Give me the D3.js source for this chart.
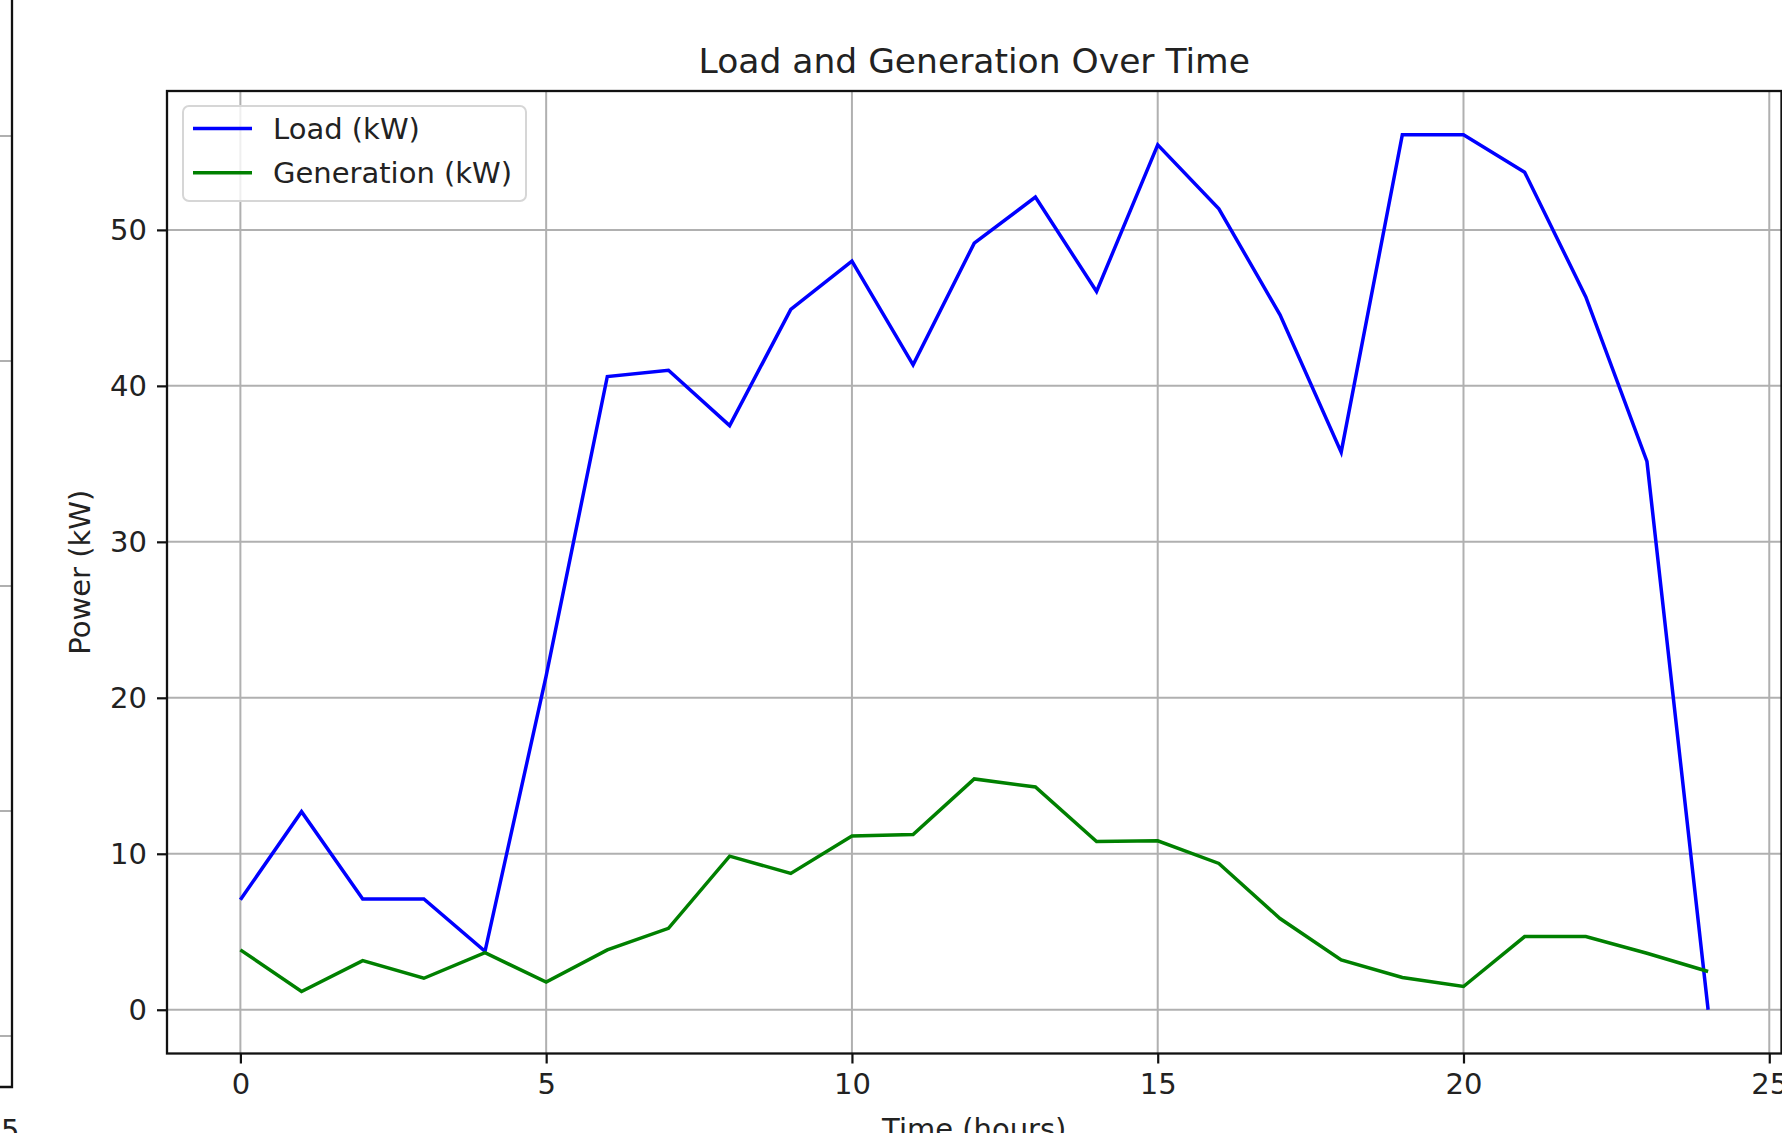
<!DOCTYPE html>
<html>
<head>
<meta charset="utf-8">
<script src="https://cdn.jsdelivr.net/npm/d3@7"></script>
<style>
  html, body { margin: 0; padding: 0; background: #fff; }
  svg { display: block; font-family: "DejaVu Sans", sans-serif; }
</style>
</head>
<body>
<div id="chart"></div>
<script>
// hours 0..24
const hours = [0, 1, 2, 3, 4, 5, 6, 7, 8, 9, 10, 11, 12, 13, 14, 15, 16, 17, 18, 19, 20, 21, 22, 23, 24];

const load = [7.05, 12.7, 7.1, 7.1, 3.75, 21.4, 40.6, 41.0, 37.45, 44.9, 48.0, 41.35, 49.15,
  52.1, 46.05, 55.45, 51.35, 44.55, 35.75, 56.1, 56.1, 53.7, 45.7, 35.15, 0.0];
const generation = [3.84, 1.17, 3.15, 2.02, 3.66, 1.77, 3.84, 5.22, 9.85, 8.74, 11.14, 11.23, 14.8,
  14.28, 10.78, 10.83, 9.38, 5.85, 3.2, 2.07, 1.49, 4.69, 4.69, 3.62, 2.45];

const xTicks = [0, 5, 10, 15, 20, 25];
const yTicks = [0, 10, 20, 30, 40, 50];

const seriesNames = ["Load (kW)", "Generation (kW)"];
const seriesColors = ["#0000ff", "#008000"];

// gridlines of the neighbouring (cropped) subplot on the far left
const leftPanelGrid = [0, 1, 2, 3, 4];

const W = 1782, H = 1133;

// plot area (axes frame) in pixels
var frame = { left: 167, right: 1781.5, top: 91, bottom: 1053.5 };

var svg = d3.select("#chart")
  .append("svg")
  .attr("width", W)
  .attr("height", H);

// matplotlib style 5% margins around the data
function padded(lo, hi) {
  let m = (hi - lo) * 0.05;
  return [lo - m, hi + m];
}

var xScale = d3.scaleLinear()
  .domain(padded(d3.min(hours), d3.max(hours)))
  .range([frame.left, frame.right]);

var yScale = d3.scaleLinear()
  .domain(padded(Math.min(d3.min(load), d3.min(generation)), Math.max(d3.max(load), d3.max(generation))))
  .range([frame.bottom, frame.top]);

/*
  left neighbour subplot, only its right/bottom edge is in the picture
*/
var leftY = d3.scaleLinear().domain([0, 4]).range([136, 1036]);
var leftG = svg.append("g");
leftG.selectAll(".lgrid")
  .data(leftPanelGrid)
  .enter().append("line")
  .attr("x1", 0).attr("x2", 11)
  .attr("y1", d => leftY(d)).attr("y2", d => leftY(d))
  .attr("stroke", "#b0b0b0")
  .attr("stroke-width", 2);
leftG.append("path")
  .attr("d", "M12,0 V1087 H0")
  .attr("fill", "none")
  .attr("stroke", "#111")
  .attr("stroke-width", 2.3);
leftG.append("text")
  .attr("x", 1).attr("y", 1140)
  .attr("text-anchor", "middle")
  .attr("font-size", 29)
  .attr("fill", "#222")
  .text("25");

// grid
var grid = svg.append("g");
grid.selectAll(".vgrid")
  .data(xTicks)
  .enter().append("line")
  .attr("x1", d => xScale(d)).attr("x2", d => xScale(d))
  .attr("y1", frame.top).attr("y2", frame.bottom)
  .attr("stroke", "#b0b0b0")
  .attr("stroke-width", 2);
grid.selectAll(".hgrid")
  .data(yTicks)
  .enter().append("line")
  .attr("x1", frame.left).attr("x2", frame.right)
  .attr("y1", d => yScale(d)).attr("y2", d => yScale(d))
  .attr("stroke", "#b0b0b0")
  .attr("stroke-width", 2);

// the two lines
var line = d3.line()
  .x((d, i) => xScale(hours[i]))
  .y(d => yScale(d));

[load, generation].forEach(function(series, i) {
  svg.append("path")
    .datum(series)
    .attr("fill", "none")
    .attr("stroke", seriesColors[i])
    .attr("stroke-width", 3.5)
    .attr("stroke-linejoin", "miter")
    .attr("d", line);
});

// axes
var xAxis = d3.axisBottom(xScale)
  .tickValues(xTicks)
  .tickSize(10)
  .tickPadding(10)
  .tickFormat(d3.format("d"));
var yAxis = d3.axisLeft(yScale)
  .tickValues(yTicks)
  .tickSize(10)
  .tickPadding(10)
  .tickFormat(d3.format("d"));

var gx = svg.append("g")
  .attr("transform", "translate(0," + frame.bottom + ")")
  .call(xAxis);
var gy = svg.append("g")
  .attr("transform", "translate(" + frame.left + ",0)")
  .call(yAxis);

[gx, gy].forEach(function(g) {
  g.select(".domain").remove();
  g.selectAll(".tick line").attr("stroke", "#111").attr("stroke-width", 2.2);
  g.selectAll(".tick text")
    .attr("font-family", "DejaVu Sans, sans-serif")
    .attr("font-size", 29)
    .attr("fill", "#222");
});
gx.selectAll(".tick text").attr("dy", "0.72em");

// frame
svg.append("rect")
  .attr("x", frame.left).attr("y", frame.top)
  .attr("width", frame.right - frame.left)
  .attr("height", frame.bottom - frame.top)
  .attr("fill", "none")
  .attr("stroke", "#111")
  .attr("stroke-width", 2.3);

// titles
var midX = (frame.left + frame.right) / 2;
svg.append("text")
  .attr("x", midX).attr("y", 73)
  .attr("text-anchor", "middle")
  .attr("font-size", 34.5)
  .attr("fill", "#222")
  .text("Load and Generation Over Time");

svg.append("text")
  .attr("x", midX).attr("y", 1139)
  .attr("text-anchor", "middle")
  .attr("font-size", 29)
  .attr("fill", "#222")
  .text("Time (hours)");

svg.append("text")
  .attr("transform", "translate(90," + ((frame.top + frame.bottom) / 2) + ") rotate(-90)")
  .attr("text-anchor", "middle")
  .attr("font-size", 29)
  .attr("fill", "#222")
  .text("Power (kW)");

// legend
var legend = svg.append("g").attr("transform", "translate(183,106)");
legend.append("rect")
  .attr("width", 343).attr("height", 95)
  .attr("rx", 6).attr("ry", 6)
  .attr("fill", "#fff").attr("fill-opacity", 0.8)
  .attr("stroke", "#d6d6d6")
  .attr("stroke-width", 2);

legend.selectAll(".item")
  .data(seriesNames)
  .enter().append("g")
  .each(function(name, i) {
    let y = 22.5 + i * 44.3;
    d3.select(this).append("line")
      .attr("x1", 10).attr("x2", 69)
      .attr("y1", y).attr("y2", y)
      .attr("stroke", seriesColors[i])
      .attr("stroke-width", 3.5);
    d3.select(this).append("text")
      .attr("x", 90).attr("y", y + 10.5)
      .attr("font-size", 29)
      .attr("fill", "#222")
      .text(name);
  });
</script>
</body>
</html>
